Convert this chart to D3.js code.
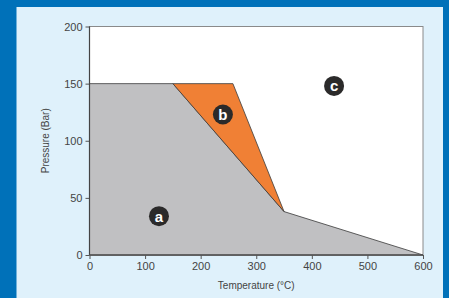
<!DOCTYPE html>
<html>
<head>
<meta charset="utf-8">
<script src="https://cdn.jsdelivr.net/npm/d3@7"></script>
<style>
  body { margin: 0; background: #0071b9; }
  svg { display: block; font-family: "Liberation Sans", Arial, sans-serif; }
  .tick text { fill: #444; font-size: 11px; }
  .tick line { stroke: #555; }
  .axis-title { fill: #444; font-size: 10px; }
</style>
</head>
<body>
<svg id="chart" width="449" height="298"></svg>
<script>
// region outlines (temperature degC, pressure bar)
const regionATemp = [0, 0, 150, 350, 600];
const regionAPres = [0, 150, 150, 38, 0];
const regionBTemp = [150, 258, 350];
const regionBPres = [150, 150, 38];

// circle labels
const labelText = ["a", "b", "c"];
const labelTemp = [125, 240, 440];
const labelPres = [34, 123, 148];

const xTicks = [0, 100, 200, 300, 400, 500, 600];
const yTicks = [0, 50, 100, 150, 200];

var width = 449,
    height = 298;

const margin = { top: 26.5, bottom: 43, left: 89.5, right: 26 };

var svg = d3.select("svg#chart");

// light panel
svg.append("rect")
    .attr("x", 16.5).attr("y", 7)
    .attr("width", 426.5).attr("height", height - 7)
    .attr("fill", "#dff1fb");

var x = d3.scaleLinear()
    .domain([0, 600])
    .range([margin.left, width - margin.right]);

var y = d3.scaleLinear()
    .domain([0, 200])
    .range([height - margin.bottom, margin.top]);

// plot background
svg.append("rect")
    .attr("x", x(0)).attr("y", y(200))
    .attr("width", x(600) - x(0)).attr("height", y(0) - y(200))
    .attr("fill", "#fff")
    .attr("stroke", "#8a8a8a")
    .attr("stroke-width", 1);

function pts(ts, ps) {
    return ts.map((t, i) => [x(t), y(ps[i])]);
}

var line = d3.line();

svg.append("path")
    .attr("d", line(pts(regionATemp, regionAPres)) + "Z")
    .attr("fill", "#c0c0c2")
    .attr("stroke", "#3a3a3a")
    .attr("stroke-width", 0.8);

svg.append("path")
    .attr("d", line(pts(regionBTemp, regionBPres)) + "Z")
    .attr("fill", "#f08035")
    .attr("stroke", "#3a3a3a")
    .attr("stroke-width", 0.8);

// axes
var xAxis = d3.axisBottom(x).tickValues(xTicks).tickSize(4).tickPadding(3);
var yAxis = d3.axisLeft(y).tickValues(yTicks).tickSize(4).tickPadding(3);

var gx = svg.append("g")
    .attr("transform", "translate(0," + y(0) + ")")
    .call(xAxis);
gx.select(".domain").remove();

var gy = svg.append("g")
    .attr("transform", "translate(" + x(0) + ",0)")
    .call(yAxis);
gy.select(".domain").remove();

// axis lines
svg.append("line")
    .attr("x1", x(0)).attr("x2", x(0))
    .attr("y1", y(200)).attr("y2", y(0))
    .attr("stroke", "#444").attr("stroke-width", 1.2);
svg.append("line")
    .attr("x1", x(0)).attr("x2", x(600))
    .attr("y1", y(0)).attr("y2", y(0))
    .attr("stroke", "#555").attr("stroke-width", 1.5);

svg.append("text")
    .attr("class", "axis-title")
    .attr("x", (x(0) + x(600)) / 2)
    .attr("y", 289)
    .attr("text-anchor", "middle")
    .text("Temperature (°C)");

svg.append("text")
    .attr("class", "axis-title")
    .attr("transform", "translate(49," + ((y(0) + y(200)) / 2) + ") rotate(-90)")
    .attr("text-anchor", "middle")
    .text("Pressure (Bar)");

// region labels
var lab = svg.selectAll("g.lab")
    .data(labelText)
    .enter()
    .append("g")
    .attr("class", "lab")
    .attr("transform", (d, i) => "translate(" + x(labelTemp[i]) + "," + y(labelPres[i]) + ")");

lab.append("circle")
    .attr("r", 10)
    .attr("fill", "#2b2a2a");

lab.append("text")
    .attr("text-anchor", "middle")
    .attr("dy", "0.36em")
    .attr("fill", "#fff")
    .style("font-size", "15px")
    .style("font-weight", "bold")
    .text(d => d);
</script>
</body>
</html>
